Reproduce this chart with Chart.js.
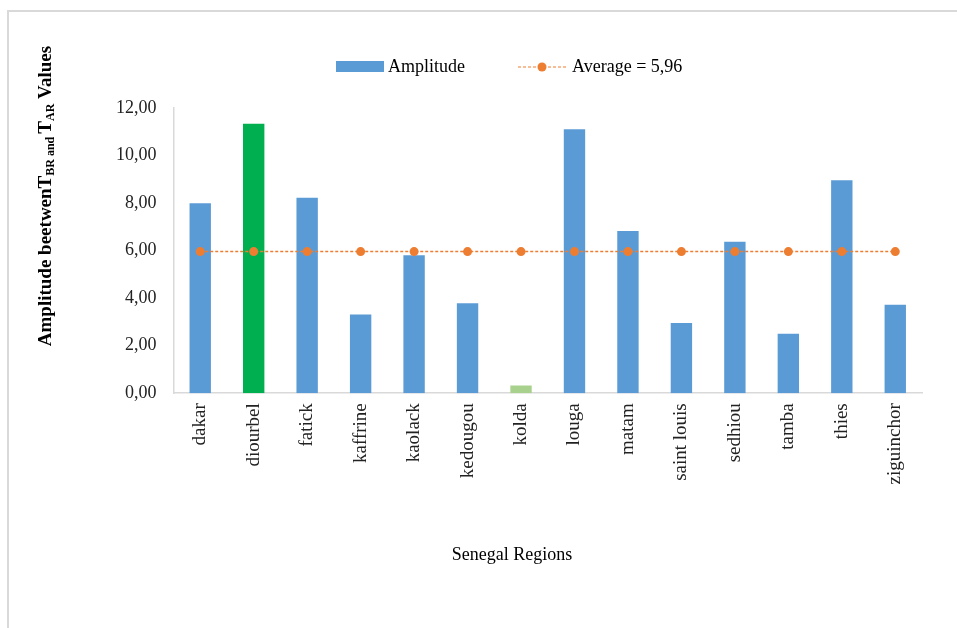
<!DOCTYPE html>
<html>
<head>
<meta charset="utf-8">
<script src="https://cdn.jsdelivr.net/npm/chart.js@4/dist/chart.umd.min.js"></script>
<style>
  html, body { margin: 0; padding: 0; background: #fff; }
  #wrap { position: relative; width: 957px; height: 628px; }
</style>
</head>
<body>
<div id="wrap"><canvas id="amplitudeChart" width="957" height="628"></canvas></div>
<script>
const regions = ['dakar', 'diourbel', 'fatick', 'kaffrine', 'kaolack', 'kedougou', 'kolda',
    'louga', 'matam', 'saint louis', 'sedhiou', 'tamba', 'thies', 'ziguinchor'];
const amplitude = [7.99, 11.34, 8.22, 3.31, 5.81, 3.79, 0.33, 11.11, 6.83, 2.96, 6.37, 2.50, 8.96, 3.72];
const average = [5.96, 5.96, 5.96, 5.96, 5.96, 5.96, 5.96, 5.96, 5.96, 5.96, 5.96, 5.96, 5.96, 5.96];
const yTicks = [0, 2, 4, 6, 8, 10, 12];

const BLUE = '#5b9bd5';
const ORANGE = '#ed7d31';
// highest region in dark green, lowest in light green
const barColors = amplitude.map((v, i) =>
    i === 1 ? '#00b050' : i === 6 ? '#a9d18e' : BLUE);

const SERIF = '"Liberation Serif", "Times New Roman", serif';
const fmt = v => v.toFixed(2).replace('.', ',');

// frame, legend and axis titles drawn by hand
const decorations = {
    id: 'decorations',
    afterDraw(chart) {
        const ctx = chart.ctx;
        ctx.save();

        // outer frame
        ctx.strokeStyle = '#d9d9d9';
        ctx.lineWidth = 2;
        ctx.beginPath();
        ctx.moveTo(8, 628);
        ctx.lineTo(8, 11);
        ctx.lineTo(957, 11);
        ctx.stroke();

        // legend
        const ly = 67;
        ctx.fillStyle = BLUE;
        ctx.fillRect(336, ly - 6, 48, 11);
        ctx.font = '18px ' + SERIF;
        ctx.fillStyle = '#000';
        ctx.textBaseline = 'middle';
        ctx.textAlign = 'left';
        ctx.fillText('Amplitude', 388, ly);

        ctx.strokeStyle = ORANGE;
        ctx.lineWidth = 1;
        ctx.setLineDash([3, 2]);
        ctx.beginPath();
        ctx.moveTo(518, ly);
        ctx.lineTo(566, ly);
        ctx.stroke();
        ctx.setLineDash([]);
        ctx.fillStyle = ORANGE;
        ctx.beginPath();
        ctx.arc(542, ly, 4.5, 0, Math.PI * 2);
        ctx.fill();
        ctx.fillStyle = '#000';
        ctx.fillText('Average = 5,96', 572, ly);

        // x axis title
        ctx.textAlign = 'center';
        ctx.fillText('Senegal Regions', 512, 555);

        // y axis title with subscripts
        const parts = [
            ['Amplitude beetwen', false],
            ['T', false],
            ['BR and ', true],
            ['T', false],
            ['AR', true],
            [' Values', false]
        ];
        const big = 'bold 19px ' + SERIF;
        const small = 'bold 12px ' + SERIF;
        let total = 0;
        parts.forEach(([t, sub]) => {
            ctx.font = sub ? small : big;
            total += ctx.measureText(t).width;
        });
        ctx.translate(45, 196);
        ctx.rotate(-Math.PI / 2);
        ctx.textAlign = 'left';
        ctx.textBaseline = 'alphabetic';
        let x = -total / 2;
        parts.forEach(([t, sub]) => {
            ctx.font = sub ? small : big;
            ctx.fillText(t, x, sub ? 9 : 6);
            x += ctx.measureText(t).width;
        });
        ctx.restore();
    }
};

new Chart(document.getElementById('amplitudeChart').getContext('2d'), {
    data: {
        labels: regions,
        datasets: [{
            type: 'line',
            label: 'Average = 5,96',
            data: average,
            borderColor: ORANGE,
            backgroundColor: ORANGE,
            borderWidth: 1.5,
            borderDash: [3, 2],
            pointRadius: 4.5,
            pointHoverRadius: 4.5,
            pointBorderWidth: 0,
            order: 0
        }, {
            type: 'bar',
            label: 'Amplitude',
            data: amplitude,
            backgroundColor: barColors,
            barPercentage: 0.4,
            categoryPercentage: 1,
            order: 1
        }]
    },
    options: {
        responsive: false,
        animation: false,
        layout: { padding: { left: 107, right: 35, top: 108, bottom: 141.5 } },
        plugins: {
            legend: { display: false },
            tooltip: { enabled: false }
        },
        scales: {
            x: {
                grid: { display: false },
                border: { color: '#d9d9d9', width: 1.5 },
                ticks: {
                    minRotation: 90,
                    maxRotation: 90,
                    padding: 2,
                    color: '#222',
                    font: { family: SERIF, size: 19 }
                }
            },
            y: {
                min: 0,
                max: 12,
                afterBuildTicks: axis => { axis.ticks = yTicks.map(v => ({ value: v })); },
                grid: { display: false },
                border: { color: '#d9d9d9', width: 1.5 },
                ticks: {
                    padding: 9,
                    color: '#222',
                    callback: v => fmt(v),
                    font: { family: SERIF, size: 18 }
                }
            }
        }
    },
    plugins: [decorations]
});
</script>
</body>
</html>
